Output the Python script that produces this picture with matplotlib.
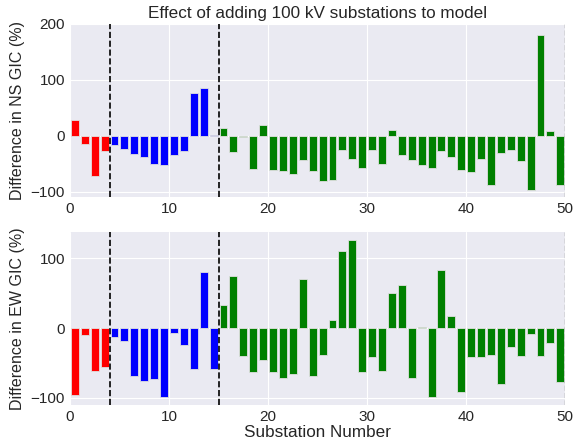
import numpy as np
import matplotlib
matplotlib.use('Agg')
import matplotlib.pyplot as plt

plt.style.use('seaborn-v0_8-darkgrid')

# --- Percentage difference in GIC per substation ---
ns_diff = [28, -14, -73, -28,
           -17, -23, -33, -39, -50, -53, -35, -28, 77, 85, 1,
           14, -29, -2, -59, 19, -62, -64, -69, -43, -64, -82, -80, -25, -41, -58,
           -25, -50, 10, -35, -44, -52, -58, -28, -38, -62, -65, -42, -88, -31, -26,
           -46, -97, 180, 8, -88]
ew_diff = [-96, -10, -61, -55,
           -12, -18, -68, -76, -73, -98, -7, -24, -59, 80, -58,
           33, 74, -40, -63, -45, -63, -72, -66, 71, -68, -38, 11, 110, 126, -63,
           -41, -62, 51, 62, -71, 1, -99, 83, 18, -91, -42, -41, -39, -80, -27,
           -40, -8, -40, -22, -77]
group_edges = [4, 15]  # boundaries between substation groups
group_colors = ['red', 'blue', 'green']

x = np.arange(len(ns_diff)) + 0.5
cols = np.array([group_colors[0]] * group_edges[0]
                + [group_colors[1]] * (group_edges[1] - group_edges[0])
                + [group_colors[2]] * (len(ns_diff) - group_edges[1]))

fig, (ax1, ax2) = plt.subplots(2, 1, figsize=(5.78, 4.44), dpi=100)
fig.subplots_adjust(left=0.121, right=0.978, top=0.946, bottom=0.088, hspace=0.2)

for ax, vals, lab, ylims in [(ax1, ns_diff, 'Difference in NS GIC (%)', (-110, 200)),
                             (ax2, ew_diff, 'Difference in EW GIC (%)', (-110, 138))]:
    ax.bar(x, vals, width=0.8, color=cols, edgecolor='#e0e0e0', linewidth=0.6)
    for g in group_edges:
        ax.axvline(g, color='k', ls='--', lw=1.2)
    ax.axvline(50, color='gray', ls='--', lw=1.0)
    ax.set_xlim(0, 50)
    ax.set_ylim(*ylims)
    ax.set_ylabel(lab, fontsize=11.5)
    ax.tick_params(labelsize=11)

ax1.set_yticks([-100, 0, 100, 200])
ax2.set_yticks([-100, 0, 100])
ax1.set_title('Effect of adding 100 kV substations to model', fontsize=12.3, pad=4)
ax2.set_xlabel('Substation Number', fontsize=12.3, labelpad=1)

plt.savefig('out.png', dpi=100)
